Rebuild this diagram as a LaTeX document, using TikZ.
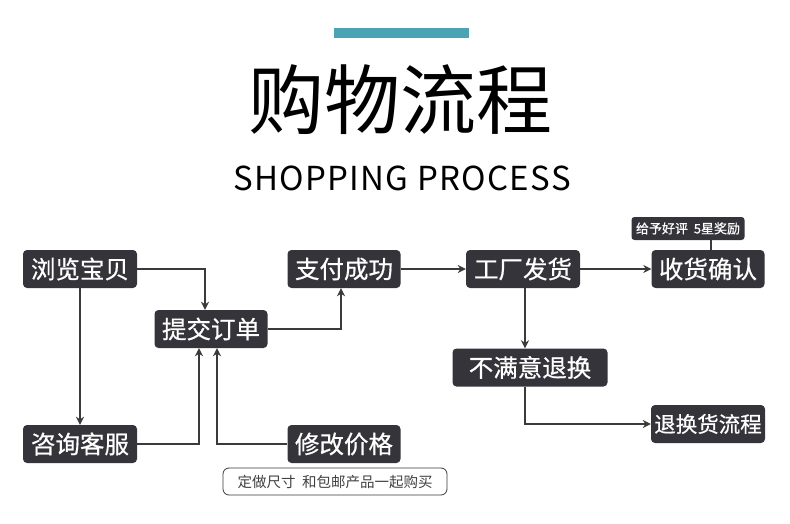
\documentclass[tikz,border=0pt]{standalone}
\usepackage{fontspec}
\setmainfont{Noto Sans CJK SC}
\newfontfamily\cjk{Noto Sans CJK SC}
\newfontfamily\cjkm[FakeBold=0.6]{Noto Sans CJK SC}
\usetikzlibrary{arrows.meta}
\definecolor{boxc}{HTML}{35343A}
\definecolor{linec}{HTML}{3A3A3A}
\definecolor{barc}{HTML}{4BA3B5}
\tikzset{
  stepbox/.style={fill=boxc, text=white, rounded corners=4pt, minimum height=38pt, inner xsep=4pt, font=\cjkm\fontsize{24.5}{26}\selectfont},
  smallbox/.style={fill=boxc, text=white, rounded corners=3pt, minimum height=23pt, inner xsep=3pt, font=\cjkm\fontsize{13}{14}\selectfont},
  notebox/.style={draw=linec, line width=0.8pt, rounded corners=6pt, minimum width=224pt, minimum height=27pt, text=black!75, font=\cjk\fontsize{14.5}{16}\selectfont},
  conn/.style={draw=linec, line width=1.6pt},
  arr/.style={conn, -{Stealth[length=8pt,width=8pt,inset=2.5pt]}}
}
\begin{document}
\begin{tikzpicture}[x=1pt,y=-1pt]
\useasboundingbox (0,0) rectangle (790,524);
\fill[barc] (334,28) rectangle (469,38);
\node (title) at (400,100) {\fontsize{76}{84}\selectfont 购物流程};
\node (sub) at (402,178) {\fontsize{33}{36}\selectfont\addfontfeatures{LetterSpace=4}SHOPPING PROCESS};

\node[stepbox, minimum width=114pt] (browse) at (80,269) {浏览宝贝};
\node[stepbox, minimum width=113pt] (order) at (211,329) {提交订单};
\node[stepbox, minimum width=113pt] (pay) at (344,269) {支付成功};
\node[stepbox, minimum width=114pt] (ship) at (523,269) {工厂发货};
\node[stepbox, minimum width=113pt] (recv) at (708,269) {收货确认};
\node[smallbox, minimum width=113pt] (review) at (688,228.5) {给予好评\ \ 5星奖励};
\node[stepbox, minimum width=155pt] (unsat) at (530,367.5) {不满意退换};
\node[stepbox, minimum width=114pt] (consult) at (80,444) {咨询客服};
\node[stepbox, minimum width=113pt] (modify) at (344,444) {修改价格};
\node[stepbox, minimum width=114pt, inner xsep=2pt, font=\cjkm\fontsize{21.5}{23}\selectfont] (ret) at (708,424) {退换货流程};
\node[notebox] (note) at (335,481.5) {定做尺寸\ \ 和包邮产品一起购买};

\coordinate (b1) at (205,269);
\draw[arr] (browse.east) -- (b1) -- (b1 |- order.north);
\draw[arr] (browse.south) -- (consult.north);
\coordinate (o1) at (341,329);
\draw[arr] (order.east) -- (o1) -- (o1 |- pay.south);
\coordinate (c1) at (199,444);
\draw[arr] (consult.east) -- (c1) -- (c1 |- order.south);
\coordinate (m1) at (217,444);
\draw[arr] (modify.west) -- (m1) -- (m1 |- order.south);
\draw[arr] (pay.east) -- (ship.west);
\draw[arr] (ship.east) -- (recv.west);
\coordinate (s1) at (525,269);
\draw[arr] (s1 |- ship.south) -- (s1 |- unsat.north);
\coordinate (u1) at (525,424);
\draw[arr] (u1 |- unsat.south) -- (u1) -- (ret.west);
\coordinate (r1) at (711,240);
\draw[conn] (r1 |- review.south) -- (r1 |- recv.north);
\end{tikzpicture}
\end{document}
